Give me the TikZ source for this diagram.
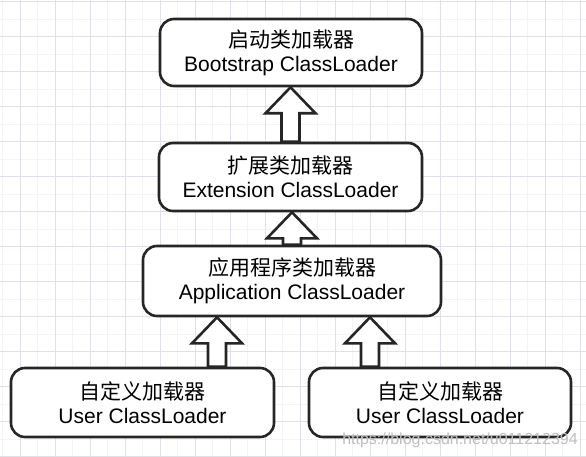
\documentclass[tikz,border=0pt]{standalone}
\usepackage{fontspec}
\setmainfont{Liberation Sans}
\newfontfamily\cjk{Noto Sans CJK SC}
\usetikzlibrary{positioning,calc}

\newcommand\hollowup[2]{\draw[uparrow] let \p1=(#1), \p2=(#2) in (\x1-9pt,\y1) -- (\x1-9pt,\y2-26pt) -- (\x1-25pt,\y2-26pt) -- (\x1,\y2) -- (\x1+25pt,\y2-26pt) -- (\x1+9pt,\y2-26pt) -- (\x1+9pt,\y1) -- cycle;}

\begin{document}
\begin{tikzpicture}[x=1pt,y=-1pt,
	minorgrid/.style={draw={rgb,255:red,243;green,243;blue,248}, line width=0.6pt},
	majorgrid/.style={draw={rgb,255:red,224;green,224;blue,234}, line width=0.8pt},
	loader/.style={draw=black!85, line width=2.6pt, rounded corners=14pt, fill=white, align=center, inner sep=0pt, font=\fontsize{21}{24}\selectfont},
	uparrow/.style={draw=black!85, line width=2.6pt, fill=white, line join=miter}]
				\useasboundingbox (0,0) rectangle (586,457);
				\fill[white] (0,0) rectangle (586,457);
				\foreach \x in {2.5,20,...,586} \draw[minorgrid] (\x,0) -- (\x,457);
				\foreach \y in {1.7,19.2,...,457} \draw[minorgrid] (0,\y) -- (586,\y);
				\foreach \x in {20,55,...,586} \draw[majorgrid] (\x,0) -- (\x,457);
				\foreach \y in {1.7,36.7,...,457} \draw[majorgrid] (0,\y) -- (586,\y);
				\node[loader, minimum width=262pt, minimum height=67pt] (boot) at (291,52.5) {{\cjk 启动类加载器}\\Bootstrap ClassLoader};
				\node[loader, minimum width=263pt, minimum height=68pt] (ext) at (290.5,177) {{\cjk 扩展类加载器}\\Extension ClassLoader};
				\node[loader, minimum width=298pt, minimum height=70pt] (app) at (292,281) {{\cjk 应用程序类加载器}\\Application ClassLoader};
				\node[loader, minimum width=263pt, minimum height=69pt] (user1) at (142.5,402.5) {{\cjk 自定义加载器}\\User ClassLoader};
				\node[loader, minimum width=262pt, minimum height=69pt] (user2) at (440,402.5) {{\cjk 自定义加载器}\\User ClassLoader};
				\coordinate (tipl) at ($(app.south)+(-75,0)$);
				\coordinate (tipr) at ($(app.south)+(78,0)$);
				\hollowup{ext.north}{boot.south}
				\hollowup{app.north}{ext.south}
				\hollowup{tipl |- user1.north}{tipl}
				\hollowup{tipr |- user2.north}{tipr}
				\node[text=black!25, font=\fontsize{16}{18}\selectfont] (mark) at (460,440) {https://blog.csdn.net/u011212394};
\end{tikzpicture}
\end{document}
